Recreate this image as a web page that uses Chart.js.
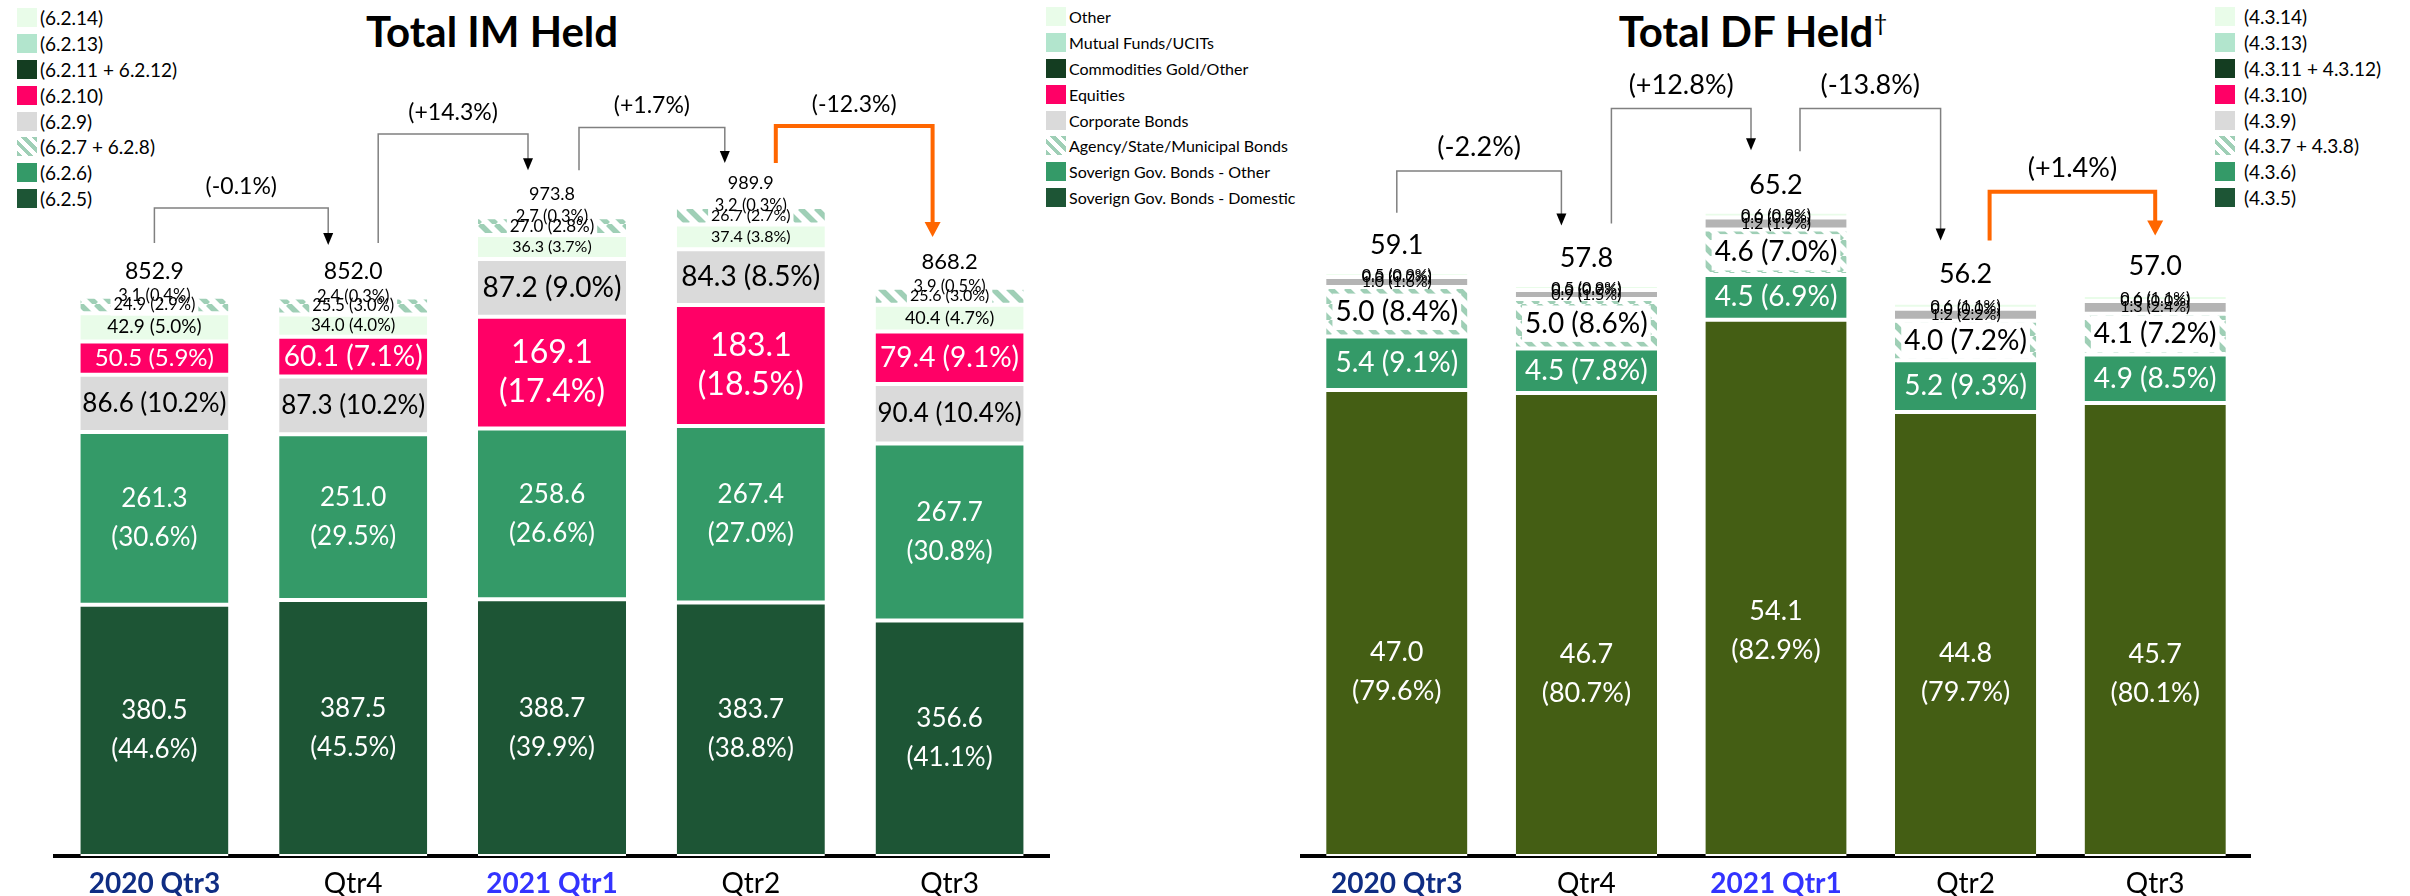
<!DOCTYPE html>
<html>
<head>
<meta charset="utf-8">
<script src="https://cdn.jsdelivr.net/npm/chart.js@4.4.1/dist/chart.umd.min.js"></script>
<style>
  html, body { margin: 0; padding: 0; background: #fff; width: 2410px; height: 896px; overflow: hidden; font-family: Lato, sans-serif; }
  canvas { position: absolute; top: 0; }
  #imChart { left: 0; }
  #dfChart { left: 1250px; }
  .title { position: absolute; top: 6px; font: bold 42px/1.2 Lato, sans-serif; color: #000; transform: translateX(-50%); white-space: nowrap; }
  .title sup { font-size: 24px; font-weight: normal; vertical-align: 16px; }
  .legend { position: absolute; list-style: none; margin: 0; padding: 0; color: #000; }
  .legend li { height: 25.8px; display: flex; align-items: center; white-space: nowrap; }
  .legend .box { width: 20px; height: 19px; flex: none; }
</style>
</head>
<body>
<div class="title" style="left:492px">Total IM Held</div>
<div class="title" style="left:1753px">Total DF Held<sup>†</sup></div>
<ul class="legend" id="legCodesIM" style="left:17px;top:5px;font-size:19px"></ul>
<ul class="legend" id="legNames" style="left:1046px;top:4px;font-size:16px"></ul>
<ul class="legend" id="legCodesDF" style="left:2215px;top:4px;font-size:19px"></ul>
<canvas id="imChart" width="1110" height="912"></canvas>
<canvas id="dfChart" width="1160" height="912"></canvas>

<script>
// x axis
const quarters = ['2020 Qtr3', 'Qtr4', '2021 Qtr1', 'Qtr2', 'Qtr3'];

// legend (top to bottom)
const seriesNames = ['Other', 'Mutual Funds/UCITs', 'Commodities Gold/Other', 'Equities', 'Corporate Bonds',
  'Agency/State/Municipal Bonds', 'Soverign Gov. Bonds - Other', 'Soverign Gov. Bonds - Domestic'];
const imCodes = ['(6.2.14)', '(6.2.13)', '(6.2.11 + 6.2.12)', '(6.2.10)', '(6.2.9)', '(6.2.7 + 6.2.8)', '(6.2.6)', '(6.2.5)'];
const dfCodes = ['(4.3.14)', '(4.3.13)', '(4.3.11 + 4.3.12)', '(4.3.10)', '(4.3.9)', '(4.3.7 + 4.3.8)', '(4.3.6)', '(4.3.5)'];

// Total IM Held
const imDomestic = [380.5, 387.5, 388.7, 383.7, 356.6];
const imDomesticPct = [44.6, 45.5, 39.9, 38.8, 41.1];
const imSovOther = [261.3, 251.0, 258.6, 267.4, 267.7];
const imSovOtherPct = [30.6, 29.5, 26.6, 27.0, 30.8];
const imCorporate = [86.6, 87.3, 87.2, 84.3, 90.4];
const imCorporatePct = [10.2, 10.2, 9.0, 8.5, 10.4];
const imEquities = [50.5, 60.1, 169.1, 183.1, 79.4];
const imEquitiesPct = [5.9, 7.1, 17.4, 18.5, 9.1];
const imOther = [42.9, 34.0, 36.3, 37.4, 40.4];
const imOtherPct = [5.0, 4.0, 3.7, 3.8, 4.7];
const imAgency = [24.9, 25.5, 27.0, 26.7, 25.6];
const imAgencyPct = [2.9, 3.0, 2.8, 2.7, 3.0];
const imFunds = [3.1, 2.4, 2.7, 3.2, 3.9];
const imFundsPct = [0.4, 0.3, 0.3, 0.3, 0.5];
const imTotals = [852.9, 852.0, 973.8, 989.9, 868.2];
const imChange = ['(-0.1%)', '(+14.3%)', '(+1.7%)', '(-12.3%)'];

// Total DF Held
const dfDomestic = [47.0, 46.7, 54.1, 44.8, 45.7];
const dfDomesticPct = [79.6, 80.7, 82.9, 79.7, 80.1];
const dfSovOther = [5.4, 4.5, 4.5, 5.2, 4.9];
const dfSovOtherPct = [9.1, 7.8, 6.9, 9.3, 8.5];
const dfAgency = [5.0, 5.0, 4.6, 4.0, 4.1];
const dfAgencyPct = [8.4, 8.6, 7.0, 7.2, 7.2];
const dfCorporate = [1.0, 0.9, 1.2, 1.2, 1.3];
const dfCorporatePct = [1.6, 1.5, 1.9, 2.2, 2.4];
const dfEquities = [0.0, 0.0, 0.0, 0.0, 0.0];
const dfEquitiesPct = [0.0, 0.0, 0.0, 0.0, 0.0];
const dfOther = [0.5, 0.5, 0.6, 0.6, 0.6];
const dfOtherPct = [0.9, 0.9, 0.9, 1.1, 1.1];
const dfTotals = [59.1, 57.8, 65.2, 56.2, 57.0];
const dfChange = ['(-2.2%)', '(+12.8%)', '(-13.8%)', '(+1.4%)'];

// colours
const C = {
  other: '#E9FCE9', funds: '#B2E5CD', commod: '#143D21', equity: '#FF0066', corp: '#DADADA',
  agency: '#9FCFB6', sovOther: '#349A68', domestic: '#1D5535', olive: '#445E14', corpDark: '#B4B4B4'
};
const legendColors = [C.other, C.funds, C.commod, C.equity, C.corp, 'hatch', C.sovOther, C.domestic];
const tickColors = ['#0F2D83', '#000', '#3333FF', '#000', '#000'];
const tickBold = [true, false, true, false, false];
const ORANGE = '#FF6600';

function buildLegend(id, texts, gap) {
  const ul = document.getElementById(id);
  texts.forEach(function (t, i) {
    const li = document.createElement('li');
    const box = document.createElement('span');
    box.className = 'box';
    if (legendColors[i] === 'hatch')
      box.style.background = 'repeating-linear-gradient(45deg, ' + C.agency + ' 0 4px, #fff 4px 8px)';
    else
      box.style.background = legendColors[i];
    const label = document.createElement('span');
    label.textContent = t;
    label.style.marginLeft = gap + 'px';
    li.appendChild(box);
    li.appendChild(label);
    ul.appendChild(li);
  });
}
buildLegend('legCodesIM', imCodes, 3);
buildLegend('legNames', seriesNames, 3);
buildLegend('legCodesDF', dfCodes, 9);

// diagonal hatch for the agency bonds
function hatch(ctx) {
  const c = document.createElement('canvas');
  c.width = 16; c.height = 16;
  const g = c.getContext('2d');
  g.fillStyle = '#fff';
  g.fillRect(0, 0, 16, 16);
  g.strokeStyle = C.agency;
  g.lineWidth = 5.5;
  g.beginPath();
  for (let k = -16; k <= 16; k += 16) { g.moveTo(k, 0); g.lineTo(k + 16, 16); }
  g.stroke();
  return ctx.createPattern(c, 'repeat');
}

// value labels in the middle of each segment + totals above the bars
const segmentLabels = {
  id: 'segmentLabels',
  afterDatasetsDraw(chart, args, opts) {
    const ctx = chart.ctx;
    const items = [];
    chart.data.datasets.forEach(function (d, di) {
      if (!d.lab) return;
      chart.getDatasetMeta(di).data.forEach(function (bar, i) {
        const v = d.data[i];
        if (v === null || v === undefined) return;
        const p = bar.getProps(['x', 'y', 'base'], true);
        const pick = function (o) { return Array.isArray(o) ? o[i] : o; };
        const num = v.toFixed(1), pc = '(' + d.pct[i].toFixed(1) + '%)';
        items.push({
          x: p.x, y: (p.y + p.base) / 2 + (pick(d.lab.dy) || 0), size: pick(d.lab.size),
          lines: pick(d.lab.wrap) ? [num, pc] : [num + ' ' + pc], color: d.lab.color, bg: d.lab.bg
        });
      });
    });
    ctx.save();
    ctx.textAlign = 'center';
    ctx.textBaseline = 'middle';
    items.forEach(function (it) {
      if (!it.bg) return;
      ctx.font = it.size + 'px Lato';
      const w = ctx.measureText(it.lines[0]).width + 6, h = it.size * 1.3;
      ctx.fillStyle = it.bg;
      ctx.fillRect(it.x - w / 2, it.y - h / 2, w, h);
    });
    items.forEach(function (it) {
      ctx.font = it.size + 'px Lato';
      ctx.fillStyle = it.color;
      it.lines.forEach(function (t, k) {
        ctx.fillText(t, it.x, it.y + (k - (it.lines.length - 1) / 2) * 39);
      });
    });
    // totals
    const xs = chart.scales.x, ys = chart.scales.y;
    ctx.fillStyle = '#000';
    opts.totals.forEach(function (t, i) {
      const size = Array.isArray(opts.size) ? opts.size[i] : opts.size;
      ctx.font = size + 'px Lato';
      ctx.fillText(t.toFixed(1), xs.getPixelForValue(i), ys.getPixelForValue(t) - opts.gap - size / 2);
    });
    ctx.restore();
  }
};

// change brackets between quarters
const brackets = {
  id: 'brackets',
  afterDatasetsDraw(chart, args, opts) {
    const ctx = chart.ctx, xs = chart.scales.x, ys = chart.scales.y;
    ctx.save();
    opts.items.forEach(function (b, n) {
      const x1 = xs.getPixelForValue(b.from) + b.dx1, x2 = xs.getPixelForValue(b.to) + b.dx2;
      const y1 = ys.getPixelForValue(b.start), yt = ys.getPixelForValue(b.top), y2 = ys.getPixelForValue(b.end);
      const hot = b.color === ORANGE;
      const hw = hot ? 8 : 5, hh = hot ? 15 : 12;
      ctx.strokeStyle = hot ? ORANGE : '#808080';
      ctx.lineWidth = hot ? 4 : 1.5;
      ctx.beginPath();
      ctx.moveTo(x1, y1); ctx.lineTo(x1, yt); ctx.lineTo(x2, yt); ctx.lineTo(x2, y2 - hh + 1);
      ctx.stroke();
      ctx.fillStyle = hot ? ORANGE : '#000';
      ctx.beginPath();
      ctx.moveTo(x2 - hw, y2 - hh); ctx.lineTo(x2 + hw, y2 - hh); ctx.lineTo(x2, y2);
      ctx.closePath();
      ctx.fill();
      ctx.font = opts.size + 'px Lato';
      ctx.fillStyle = '#000';
      ctx.textAlign = 'center';
      ctx.textBaseline = 'middle';
      ctx.fillText(opts.labels[n], (x1 + x2) / 2, yt - 10 - opts.size / 2);
    });
    ctx.restore();
  }
};

function seg(label, values, pct, color, lab) {
  return { label: label, data: values, pct: pct, backgroundColor: color, lab: lab };
}

function options(ymax, pad, totals, totalSize, totalGap, items, labels, changeSize) {
  return {
    responsive: false,
    animation: false,
    devicePixelRatio: 1,
    layout: { padding: pad },
    datasets: {
      bar: {
        barPercentage: 0.745, categoryPercentage: 1.0, borderColor: '#fff', borderSkipped: false,
        borderWidth: { top: 2, bottom: 2, left: 0, right: 0 }
      }
    },
    scales: {
      x: {
        stacked: true,
        grid: { display: false, drawTicks: false },
        border: { display: true, color: '#000', width: 4 },
        ticks: {
          padding: 14,
          color: function (c) { return tickColors[c.index]; },
          font: function (c) { return { family: 'Lato', size: 28, lineHeight: 1, weight: tickBold[c.index] ? 'bold' : 'normal' }; }
        }
      },
      y: { stacked: true, display: false, min: 0, max: ymax }
    },
    plugins: {
      legend: { display: false },
      tooltip: { enabled: false },
      segmentLabels: { totals: totals, size: totalSize, gap: totalGap },
      brackets: { items: items, labels: labels, size: changeSize }
    }
  };
}

// IM chart: corporate bonds sits below equities unless equities are larger
const corpLow = imCorporate.map(function (v, i) { return v > imEquities[i] ? v : null; });
const corpHigh = imCorporate.map(function (v, i) { return v > imEquities[i] ? null : v; });

const imCtx = document.getElementById('imChart').getContext('2d');
new Chart(imCtx, {
  type: 'bar',
  data: {
    labels: quarters,
    datasets: [
      seg(seriesNames[7], imDomestic, imDomesticPct, C.domestic, { size: 26, color: '#fff', wrap: true }),
      seg(seriesNames[6], imSovOther, imSovOtherPct, C.sovOther, { size: 26, color: '#fff', wrap: true }),
      seg(seriesNames[4], corpLow, imCorporatePct, C.corp, { size: [26, 26, 28, 28, 26], color: '#000' }),
      seg(seriesNames[3], imEquities, imEquitiesPct, C.equity, { size: [24, 28, 32, 32, 28], color: '#fff', wrap: [false, false, true, true, false] }),
      seg(seriesNames[4], corpHigh, imCorporatePct, C.corp, { size: [26, 26, 28, 28, 26], color: '#000' }),
      seg(seriesNames[0], imOther, imOtherPct, C.other, { size: [19, 17, 16, 16, 18], color: '#000' }),
      seg(seriesNames[5], imAgency, imAgencyPct, hatch(imCtx), { size: [16.5, 16.5, 17, 16, 16], color: '#000', bg: '#fff' }),
      seg(seriesNames[1], imFunds, imFundsPct, C.funds, { size: 16.5, color: '#000' })
    ]
  },
  options: options(1205, { left: 55, right: 61, top: 60, bottom: 0 }, imTotals, [23, 23, 18, 18, 22], 10, [
    { from: 0, to: 1, dx1: 0, dx2: -25, start: 928, top: 981, end: 925, color: '#808080' },
    { from: 1, to: 2, dx1: 25, dx2: -24, start: 928, top: 1093, end: 1038, color: '#808080' },
    { from: 2, to: 3, dx1: 27, dx2: -26, start: 1038, top: 1103, end: 1049, color: '#808080' },
    { from: 3, to: 4, dx1: 25, dx2: -17, start: 1049, top: 1105, end: 937, color: ORANGE }
  ], imChange, 23),
  plugins: [brackets, segmentLabels]
});

const dfCtx = document.getElementById('dfChart').getContext('2d');
new Chart(dfCtx, {
  type: 'bar',
  data: {
    labels: quarters,
    datasets: [
      seg(seriesNames[7], dfDomestic, dfDomesticPct, C.olive, { size: 27, color: '#fff', wrap: true, dy: [49, 49, 43, 39, 44] }),
      seg(seriesNames[6], dfSovOther, dfSovOtherPct, C.sovOther, { size: 28, color: '#fff' }),
      seg(seriesNames[5], dfAgency, dfAgencyPct, hatch(dfCtx), { size: 28, color: '#000', bg: '#fff' }),
      seg(seriesNames[4], dfCorporate, dfCorporatePct, C.corpDark, { size: 16, color: '#000' }),
      seg(seriesNames[3], dfEquities, dfEquitiesPct, C.equity, { size: 16, color: '#000' }),
      seg(seriesNames[0], dfOther, dfOtherPct, C.other, { size: 16, color: '#000' })
    ]
  },
  options: options(80.3, { left: 52, right: 160, top: 60, bottom: 0 }, dfTotals, 27, 11, [
    { from: 0, to: 1, dx1: 0, dx2: -25, start: 64.9, top: 69.1, end: 63.6, color: '#808080' },
    { from: 1, to: 2, dx1: 25, dx2: -25, start: 63.8, top: 75.4, end: 71.2, color: '#808080' },
    { from: 2, to: 3, dx1: 24, dx2: -25, start: 71.1, top: 75.4, end: 62.1, color: '#808080' },
    { from: 3, to: 4, dx1: 24, dx2: 0, start: 62.1, top: 67.0, end: 62.6, color: ORANGE }
  ], dfChange, 27),
  plugins: [brackets, segmentLabels]
});
</script>
</body>
</html>
